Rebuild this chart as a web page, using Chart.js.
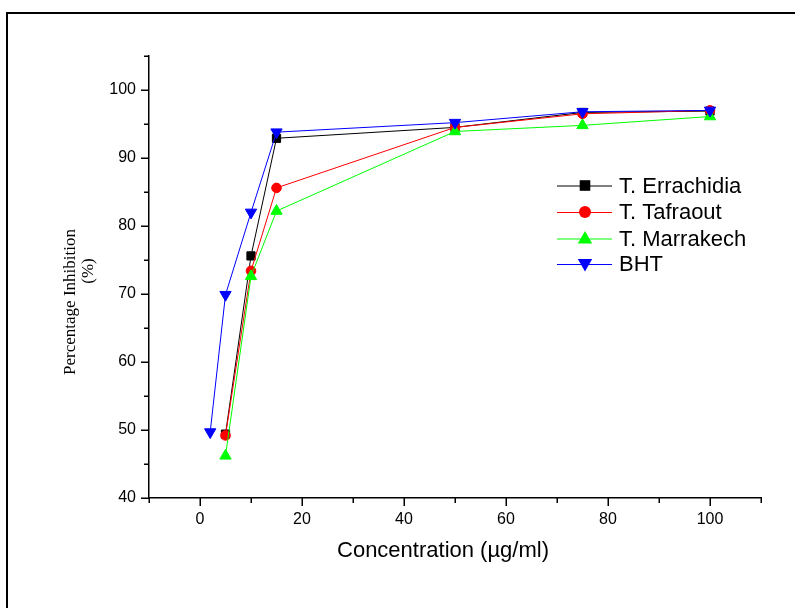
<!DOCTYPE html>
<html>
<head>
<meta charset="utf-8">
<script src="https://cdn.jsdelivr.net/npm/chart.js@4/dist/chart.umd.min.js"></script>
<style>
  html, body { margin: 0; padding: 0; background: #fff; }
  canvas { display: block; }
</style>
</head>
<body>
<canvas id="c" width="795" height="608"></canvas>
<script>
// ---- data ----
const concSamples = [5, 10, 15, 50, 75, 100];
const concBHT = [2, 5, 10, 15, 50, 75, 100];
const errachidia = [49.4, 75.6, 92.9, 94.5, 96.7, 96.9];
const tafraout = [49.2, 73.4, 85.6, 94.5, 96.5, 97.0];
const marrakech = [46.2, 72.6, 82.2, 93.9, 94.8, 96.1];
const bht = [49.7, 69.9, 82.0, 93.8, 95.2, 96.8, 97.0];
const seriesNames = ['T. Errachidia', 'T. Tafraout', 'T. Marrakech', 'BHT'];
const xTitle = 'Concentration (\u00b5g/ml)';
const yTitleLines = ['Percentage Inhibition', '(%)'];

const pts = (xs, ys) => xs.map((x, i) => ({x: x, y: ys[i]}));

const styles = [
  {color: '#000000', pointStyle: 'rect', radius: 5.8, rotation: 0, order: 4},
  {color: '#ff0000', pointStyle: 'circle', radius: 4.8, rotation: 0, order: 3},
  {color: '#00ff00', pointStyle: 'triangle', radius: 6.5, rotation: 0, order: 2},
  {color: '#0000ff', pointStyle: 'triangle', radius: 6.5, rotation: 180, order: 1}
];
const seriesData = [pts(concSamples, errachidia), pts(concSamples, tafraout), pts(concSamples, marrakech), pts(concBHT, bht)];

const datasets = seriesNames.map((name, i) => ({
  label: name,
  data: seriesData[i],
  showLine: true,
  borderColor: styles[i].color,
  backgroundColor: styles[i].color,
  borderWidth: 1,
  pointStyle: styles[i].pointStyle,
  pointRadius: styles[i].radius,
  pointHoverRadius: styles[i].radius,
  pointRotation: styles[i].rotation,
  pointBorderWidth: 1,
  pointBorderColor: styles[i].color,
  pointBackgroundColor: styles[i].color,
  order: styles[i].order,
  tension: 0
}));

const frame = {
  id: 'frame',
  beforeDraw(chart) {
    const ctx = chart.ctx;
    ctx.save();
    ctx.fillStyle = '#fff';
    ctx.fillRect(0, 0, chart.width, chart.height);
    ctx.strokeStyle = '#000';
    ctx.lineWidth = 2;
    ctx.strokeRect(7, 13, 900, 800);
    ctx.restore();
  }
};

const tickMarks = {
  id: 'tickMarks',
  afterDraw(chart) {
    const ctx = chart.ctx;
    const xs = chart.scales.x, ys = chart.scales.y;
    ctx.save();
    ctx.strokeStyle = '#000';
    ctx.lineWidth = 1.5;
    xs.ticks.forEach(t => {
      const px = Math.round(xs.getPixelForValue(t.value)) + 0.25;
      const len = t.label !== '' ? 8 : 5;
      ctx.beginPath();
      ctx.moveTo(px, ys.bottom);
      ctx.lineTo(px, ys.bottom + len);
      ctx.stroke();
    });
    ys.ticks.forEach(t => {
      const py = Math.round(ys.getPixelForValue(t.value)) + 0.25;
      const len = t.label !== '' ? 8 : 5;
      ctx.beginPath();
      ctx.moveTo(xs.left, py);
      ctx.lineTo(xs.left - len, py);
      ctx.stroke();
    });
    ctx.fillStyle = '#000';
    // y title (two lines, rotated)
    ctx.font = '17px "Liberation Serif", "Times New Roman", serif';
    ctx.textAlign = 'center';
    ctx.textBaseline = 'middle';
    const yCenters = [[71, 302], [89, 271]];
    yTitleLines.forEach((line, i) => {
      ctx.save();
      ctx.translate(yCenters[i][0], yCenters[i][1]);
      ctx.rotate(-Math.PI / 2);
      ctx.fillText(line, 0, 0);
      ctx.restore();
    });
    // x title
    ctx.font = '22px "Liberation Sans", Arial, sans-serif';
    ctx.fillText(xTitle, 443, 551);
    ctx.restore();
  }
};

function drawMarker(ctx, style, x, y, color) {
  ctx.fillStyle = color;
  ctx.strokeStyle = color;
  ctx.beginPath();
  if (style === 'rect') {
    ctx.rect(x - 5.3, y - 5.3, 10.6, 10.6);
  } else if (style === 'circle') {
    ctx.arc(x, y, 6, 0, Math.PI * 2);
  } else if (style === 'up') {
    ctx.moveTo(x, y - 7.5);
    ctx.lineTo(x + 7.2, y + 5);
    ctx.lineTo(x - 7.2, y + 5);
    ctx.closePath();
  } else {
    ctx.moveTo(x, y + 7.5);
    ctx.lineTo(x + 7.2, y - 5);
    ctx.lineTo(x - 7.2, y - 5);
    ctx.closePath();
  }
  ctx.fill();
}

const legendPlugin = {
  id: 'customLegend',
  afterDraw(chart) {
    const ctx = chart.ctx;
    const rows = [185.5, 212, 238.5, 264];
    const kinds = ['rect', 'circle', 'up', 'down'];
    ctx.save();
    ctx.font = '22px "Liberation Sans", Arial, sans-serif';
    ctx.textBaseline = 'middle';
    ctx.textAlign = 'left';
    seriesNames.forEach((name, i) => {
      const y = rows[i];
      ctx.strokeStyle = styles[i].color;
      ctx.lineWidth = 1;
      ctx.beginPath();
      ctx.moveTo(557, y + 0.5);
      ctx.lineTo(612, y + 0.5);
      ctx.stroke();
      drawMarker(ctx, kinds[i], 585, y, styles[i].color);
      ctx.fillStyle = '#000';
      ctx.fillText(name, 619, y + 1);
    });
    ctx.restore();
  }
};

new Chart(document.getElementById('c'), {
  type: 'scatter',
  data: {datasets: datasets},
  options: {
    responsive: false,
    animation: false,
    devicePixelRatio: 1,
    layout: {padding: {left: 0, top: 56, right: 34, bottom: 0}},
    plugins: {legend: {display: false}, tooltip: {enabled: false}},
    scales: {
      x: {
        type: 'linear',
        min: -10, max: 110,
        grid: {display: false, drawTicks: false},
        border: {display: true, color: '#000', width: 1.5},
        ticks: {
          stepSize: 10,
          autoSkip: false,
          maxRotation: 0,
          padding: 12,
          color: '#000',
          font: {family: '"Liberation Sans", Arial, sans-serif', size: 16},
          callback: v => (v % 20 === 0 ? String(v) : '')
        },
        afterFit: s => { s.height = 110; }
      },
      y: {
        type: 'linear',
        min: 40, max: 105,
        grid: {display: false, drawTicks: false},
        border: {display: true, color: '#000', width: 1.5},
        ticks: {
          stepSize: 5,
          autoSkip: false,
          padding: 13,
          color: '#000',
          font: {family: '"Liberation Sans", Arial, sans-serif', size: 16},
          callback: v => (v % 10 === 0 && v <= 100 ? String(v) : '')
        },
        afterFit: s => { s.width = 149; }
      }
    }
  },
  plugins: [frame, tickMarks, legendPlugin]
});
</script>
</body>
</html>
